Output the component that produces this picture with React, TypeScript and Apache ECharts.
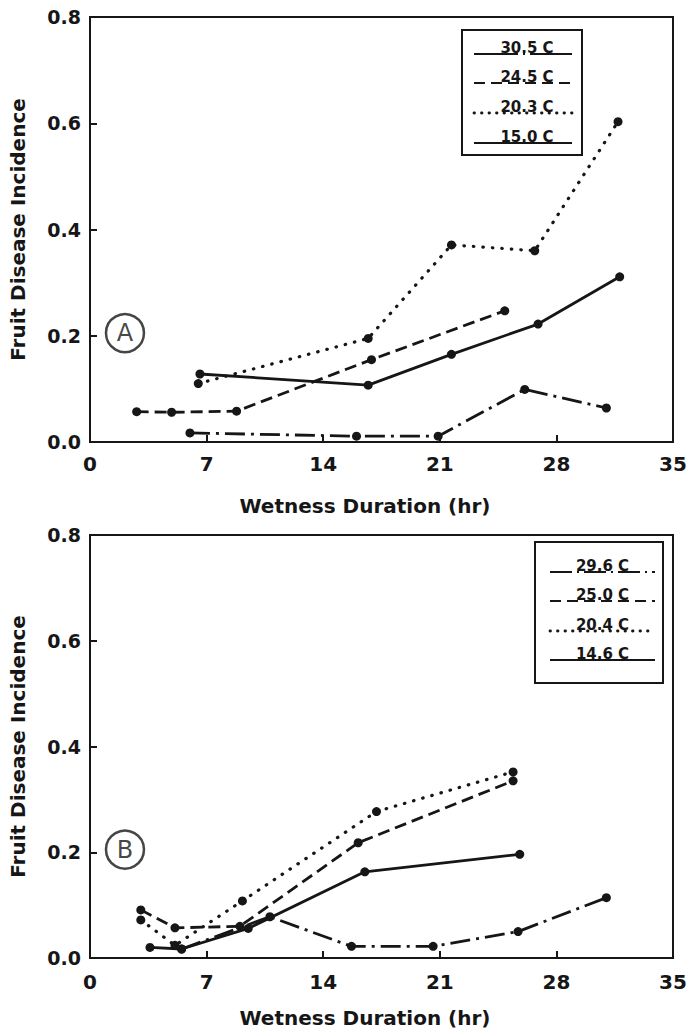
import React, { useEffect, useRef } from "react";
import * as echarts from "echarts";

// ---- tick labels ----
const xTicks = [0, 7, 14, 21, 28, 35];
const yTicks = [0, 0.2, 0.4, 0.6, 0.8];

// ---- Panel A (temperatures) ----
const namesA = ["30.5 C", "24.5 C", "20.3 C", "15.0 C"];
const a1x = [6.0, 16.0, 20.9, 26.1, 31.0];
const a1y = [0.017, 0.011, 0.011, 0.099, 0.064];
const a2x = [2.8, 4.9, 8.8, 16.9, 24.9];
const a2y = [0.057, 0.056, 0.058, 0.155, 0.247];
const a3x = [6.5, 16.7, 21.7, 26.7, 31.7];
const a3y = [0.11, 0.195, 0.371, 0.36, 0.603];
const a4x = [6.6, 16.7, 21.7, 26.9, 31.8];
const a4y = [0.128, 0.107, 0.165, 0.222, 0.311];

// ---- Panel B ----
const namesB = ["29.6 C", "25.0 C", "20.4 C", "14.6 C"];
const b1x = [5.5, 10.8, 15.7, 20.6, 25.7, 31.0];
const b1y = [0.017, 0.078, 0.022, 0.022, 0.05, 0.114];
const b2x = [3.05, 5.1, 9.0, 16.1, 25.4];
const b2y = [0.091, 0.057, 0.06, 0.218, 0.335];
const b3x = [3.05, 5.1, 9.15, 17.2, 25.4];
const b3y = [0.072, 0.024, 0.108, 0.277, 0.352];
const b4x = [3.6, 5.5, 9.5, 16.5, 25.8];
const b4y = [0.02, 0.017, 0.056, 0.163, 0.196];

const panelLetters = ["A", "B"];
const letterPos = [2.1, 0.205];

const INK = "#161616";
const FONT = "DejaVu Sans";

const DOTTED = [0.5, 9];
const dashes: any[] = [[20, 6, 3, 6], [12, 6], DOTTED, "solid"];

const zip = (xs: number[], ys: number[]) => xs.map((x, i) => [x, ys[i]]);

function lineSeries(name: string, data: number[][], idx: number, style: any) {
  const dotted = style === DOTTED;
  return {
    type: "line",
    name,
    xAxisIndex: idx,
    yAxisIndex: idx,
    data,
    symbol: "circle",
    symbolSize: 9,
    itemStyle: { color: INK },
    lineStyle: { color: INK, width: dotted ? 3.2 : 2.8, type: style, cap: dotted ? "round" : "butt" },
    z: 3,
  };
}

function letterSeries(letter: string, idx: number) {
  return {
    type: "scatter",
    xAxisIndex: idx,
    yAxisIndex: idx,
    data: [letterPos],
    symbol: "circle",
    symbolSize: 38,
    itemStyle: { color: "#fff", borderColor: INK, borderWidth: 2.5 },
    label: {
      show: true,
      position: "inside",
      formatter: letter,
      color: INK,
      fontSize: 24,
      fontFamily: FONT,
    },
    z: 4,
  };
}

function legend(names: string[], box: any, ys: number[], x0: number, x1: number, firstDash: any, dx: number) {
  const els: any[] = [
    {
      type: "rect",
      shape: { x: box.x, y: box.y, width: box.w, height: box.h },
      style: { fill: "#fff", stroke: INK, lineWidth: 2 },
      z: 10,
    },
  ];
  names.forEach((n, i) => {
    let dash: any = null;
    if (i === 0) dash = firstDash;
    if (i === 1) dash = [11, 6];
    if (i === 2) dash = [0.5, 7];
    els.push({
      type: "line",
      shape: { x1: x0, y1: ys[i], x2: x1, y2: ys[i] },
      style: { stroke: INK, lineWidth: i === 2 ? 2.8 : 2.2, lineDash: dash, lineCap: i === 2 ? "round" : "butt" },
      z: 11,
    });
    els.push({
      type: "text",
      x: (x0 + x1) / 2 + dx,
      y: ys[i] + 1,
      style: {
        text: n,
        fill: INK,
        font: `bold 15px "${FONT}"`,
        align: "center",
        verticalAlign: "bottom",
        textAlign: "center",
        textVerticalAlign: "bottom",
      },
      z: 12,
    });
  });
  return els;
}

function xTitle(y: number) {
  return {
    type: "text",
    x: 365,
    y,
    style: {
      text: "Wetness Duration (hr)",
      fill: INK,
      font: `bold 20px "${FONT}"`,
      align: "center",
      verticalAlign: "middle",
      textAlign: "center",
      textVerticalAlign: "middle",
    },
    z: 5,
  };
}

const grids = [
  { left: 90, top: 17, width: 583, height: 425 },
  { left: 90, top: 535, width: 583, height: 423 },
];

const axisCommon = {
  axisLine: { show: true, lineStyle: { color: INK, width: 2 } },
  axisTick: { show: true, inside: true, length: 7, lineStyle: { color: INK, width: 2 } },
  splitLine: { show: false },
};

const option: any = {
  animation: false,
  backgroundColor: "#fff",
  grid: grids.map((g) => ({ ...g, show: true, borderColor: INK, borderWidth: 2, backgroundColor: "transparent" })),
  xAxis: grids.map((_, i) => ({
    type: "value",
    gridIndex: i,
    min: xTicks[0],
    max: xTicks[xTicks.length - 1],
    interval: 7,
    ...axisCommon,
    axisLabel: { color: INK, fontSize: 20, fontFamily: FONT, fontWeight: "bold", margin: i === 0 ? 12 : 14 },
  })),
  yAxis: grids.map((_, i) => ({
    type: "value",
    gridIndex: i,
    min: yTicks[0],
    max: yTicks[yTicks.length - 1],
    interval: 0.2,
    ...axisCommon,
    name: "Fruit Disease Incidence",
    nameLocation: "middle",
    nameRotate: 90,
    nameGap: 62,
    nameTextStyle: { color: INK, fontSize: 20, fontFamily: FONT, fontWeight: "bold" },
    axisLabel: {
      color: INK,
      fontSize: 19,
      fontFamily: FONT,
      fontWeight: "bold",
      margin: 9,
      formatter: (v: number) => v.toFixed(1),
    },
  })),
  series: [
    lineSeries(namesA[0], zip(a1x, a1y), 0, dashes[0]),
    lineSeries(namesA[1], zip(a2x, a2y), 0, dashes[1]),
    lineSeries(namesA[2], zip(a3x, a3y), 0, dashes[2]),
    lineSeries(namesA[3], zip(a4x, a4y), 0, dashes[3]),
    lineSeries(namesB[0], zip(b1x, b1y), 1, dashes[0]),
    lineSeries(namesB[1], zip(b2x, b2y), 1, dashes[1]),
    lineSeries(namesB[2], zip(b3x, b3y), 1, dashes[2]),
    lineSeries(namesB[3], zip(b4x, b4y), 1, dashes[3]),
    letterSeries(panelLetters[0], 0),
    letterSeries(panelLetters[1], 1),
  ],
  graphic: [
    ...legend(namesA, { x: 462, y: 30, w: 120, h: 125 }, [54, 83, 113, 143], 474, 572, [44, 5, 2, 5], 4),
    ...legend(namesB, { x: 535, y: 542, w: 128, h: 141 }, [572, 601, 631, 660], 550, 655, [22, 5, 2, 5], 0),
    xTitle(506),
    xTitle(1018),
  ],
};

export default function App() {
  const ref = useRef<HTMLDivElement>(null);
  useEffect(() => {
    document.body.style.margin = "0";
    const chart = echarts.init(ref.current!, null, { renderer: "svg" });
    chart.setOption(option);
    return () => chart.dispose();
  }, []);
  return <div ref={ref} style={{ width: 697, height: 1032 }} />;
}
